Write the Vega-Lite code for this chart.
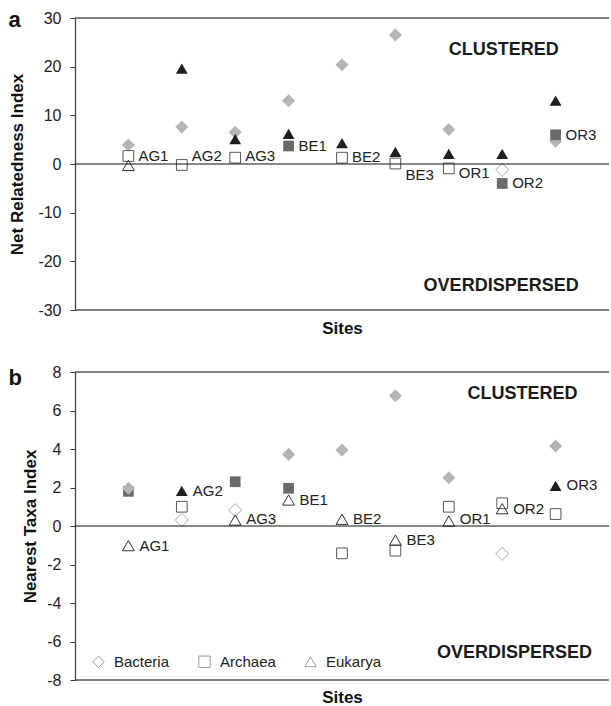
{
  "$schema": "https://vega.github.io/schema/vega-lite/v6.json",
  "padding": {"left": 8, "top": 8, "right": 0, "bottom": 0},
  "spacing": 28,
  "config": {
    "font": "Liberation Sans",
    "view": {"stroke": null},
    "axis": {"grid": false, "labelFontSize": 16, "labelColor": "#222", "titleFontSize": 17, "titleFontWeight": "bold", "titleColor": "#111", "tickColor": "#333", "tickSize": 5, "domainColor": "#444", "domainWidth": 1.3, "labelPadding": 9, "labelOverlap": false, "labelBound": false, "labelFlush": false, "labelExpr": "replace(datum.label, '\u2212', '-')"}
  },
  "datasets": {
    "nri": [
      {"site": 1, "taxon": "Bacteria", "value": 3.9, "significant": true},
      {"site": 2, "taxon": "Bacteria", "value": 7.6, "significant": true},
      {"site": 3, "taxon": "Bacteria", "value": 6.5, "significant": true},
      {"site": 4, "taxon": "Bacteria", "value": 13.0, "significant": true},
      {"site": 5, "taxon": "Bacteria", "value": 20.4, "significant": true},
      {"site": 6, "taxon": "Bacteria", "value": 26.5, "significant": true},
      {"site": 7, "taxon": "Bacteria", "value": 7.1, "significant": true},
      {"site": 8, "taxon": "Bacteria", "value": -1.2, "significant": false},
      {"site": 9, "taxon": "Bacteria", "value": 4.7, "significant": true},
      {"site": 1, "taxon": "Archaea", "value": 1.65, "significant": false},
      {"site": 2, "taxon": "Archaea", "value": -0.2, "significant": false},
      {"site": 3, "taxon": "Archaea", "value": 1.3, "significant": false},
      {"site": 4, "taxon": "Archaea", "value": 3.7, "significant": true},
      {"site": 5, "taxon": "Archaea", "value": 1.3, "significant": false},
      {"site": 6, "taxon": "Archaea", "value": 0.1, "significant": false},
      {"site": 7, "taxon": "Archaea", "value": -0.9, "significant": false},
      {"site": 8, "taxon": "Archaea", "value": -4.0, "significant": true},
      {"site": 9, "taxon": "Archaea", "value": 6.0, "significant": true},
      {"site": 1, "taxon": "Eukarya", "value": -0.3, "significant": false},
      {"site": 2, "taxon": "Eukarya", "value": 19.6, "significant": true},
      {"site": 3, "taxon": "Eukarya", "value": 5.1, "significant": true},
      {"site": 4, "taxon": "Eukarya", "value": 6.2, "significant": true},
      {"site": 5, "taxon": "Eukarya", "value": 4.3, "significant": true},
      {"site": 6, "taxon": "Eukarya", "value": 2.5, "significant": true},
      {"site": 7, "taxon": "Eukarya", "value": 2.1, "significant": true},
      {"site": 8, "taxon": "Eukarya", "value": 2.1, "significant": true},
      {"site": 9, "taxon": "Eukarya", "value": 13.0, "significant": true}
    ],
    "nti": [
      {"site": 1, "taxon": "Archaea", "value": 1.8, "significant": true},
      {"site": 2, "taxon": "Archaea", "value": 1.0, "significant": false},
      {"site": 3, "taxon": "Archaea", "value": 2.3, "significant": true},
      {"site": 4, "taxon": "Archaea", "value": 1.96, "significant": true},
      {"site": 5, "taxon": "Archaea", "value": -1.42, "significant": false},
      {"site": 6, "taxon": "Archaea", "value": -1.28, "significant": false},
      {"site": 7, "taxon": "Archaea", "value": 1.0, "significant": false},
      {"site": 8, "taxon": "Archaea", "value": 1.18, "significant": false},
      {"site": 9, "taxon": "Archaea", "value": 0.62, "significant": false},
      {"site": 1, "taxon": "Bacteria", "value": 1.96, "significant": true},
      {"site": 2, "taxon": "Bacteria", "value": 0.31, "significant": false},
      {"site": 3, "taxon": "Bacteria", "value": 0.83, "significant": false},
      {"site": 4, "taxon": "Bacteria", "value": 3.72, "significant": true},
      {"site": 5, "taxon": "Bacteria", "value": 3.95, "significant": true},
      {"site": 6, "taxon": "Bacteria", "value": 6.77, "significant": true},
      {"site": 7, "taxon": "Bacteria", "value": 2.51, "significant": true},
      {"site": 8, "taxon": "Bacteria", "value": -1.45, "significant": false},
      {"site": 9, "taxon": "Bacteria", "value": 4.16, "significant": true},
      {"site": 1, "taxon": "Eukarya", "value": -1.02, "significant": false},
      {"site": 2, "taxon": "Eukarya", "value": 1.82, "significant": true},
      {"site": 3, "taxon": "Eukarya", "value": 0.31, "significant": false},
      {"site": 4, "taxon": "Eukarya", "value": 1.35, "significant": false},
      {"site": 5, "taxon": "Eukarya", "value": 0.35, "significant": false},
      {"site": 6, "taxon": "Eukarya", "value": -0.73, "significant": false},
      {"site": 7, "taxon": "Eukarya", "value": 0.26, "significant": false},
      {"site": 8, "taxon": "Eukarya", "value": 0.9, "significant": false},
      {"site": 9, "taxon": "Eukarya", "value": 2.08, "significant": true}
    ],
    "nriLabels": [
      {"site": 1, "label": "AG1", "at": 1.65},
      {"site": 2, "label": "AG2", "at": 1.6},
      {"site": 3, "label": "AG3", "at": 1.6},
      {"site": 4, "label": "BE1", "at": 3.7},
      {"site": 5, "label": "BE2", "at": 1.45},
      {"site": 6, "label": "BE3", "at": -2.3},
      {"site": 7, "label": "OR1", "at": -1.9},
      {"site": 8, "label": "OR2", "at": -4.0},
      {"site": 9, "label": "OR3", "at": 6.0}
    ],
    "ntiLabels": [
      {"site": 1, "label": "AG1", "at": -1.02},
      {"site": 2, "label": "AG2", "at": 1.82},
      {"site": 3, "label": "AG3", "at": 0.35},
      {"site": 4, "label": "BE1", "at": 1.35},
      {"site": 5, "label": "BE2", "at": 0.35},
      {"site": 6, "label": "BE3", "at": -0.73},
      {"site": 7, "label": "OR1", "at": 0.35},
      {"site": 8, "label": "OR2", "at": 0.87},
      {"site": 9, "label": "OR3", "at": 2.13}
    ]
  },
  "resolve": {
    "scale": {"shape": "independent"},
    "legend": {"shape": "independent"}
  },
  "vconcat": [
    {
      "width": 534,
      "height": 292,
      "layer": [
        {
          "data": {"name": "nri"},
          "mark": {"type": "point", "filled": false, "opacity": 1},
          "encoding": {
            "x": {"field": "site", "type": "quantitative", "scale": {"domain": [0.035, 9.942]}, "axis": {"title": "Sites", "labels": false, "ticks": false, "domain": false, "titlePadding": 10}},
            "y": {"field": "value", "type": "quantitative", "scale": {"domain": [-30, 30]}, "axis": {"title": "Net Relatedness Index", "values": [-30, -20, -10, 0, 10, 20, 30], "tickCount": 7, "titlePadding": 11, "labelOverlap": false}},
            "shape": {"condition": [{"test": "datum.taxon === 'Bacteria'", "value": "diamond"}, {"test": "datum.taxon === 'Archaea'", "value": "square"}], "value": "triangle-up"},
            "size": {"condition": [{"test": "datum.taxon === 'Bacteria'", "value": 170}, {"test": "datum.taxon === 'Archaea'", "value": 115}], "value": 140},
            "fill": {"condition": [{"test": "!datum.significant", "value": "transparent"}, {"test": "datum.taxon === 'Bacteria'", "value": "#b5b5b5"}, {"test": "datum.taxon === 'Archaea'", "value": "#6a6a6a"}], "value": "#1e1e1e"},
            "stroke": {"condition": [{"test": "datum.taxon === 'Bacteria'", "value": "#a8a8a8"}, {"test": "datum.taxon === 'Archaea'", "value": "#555555"}], "value": "#333333"},
            "strokeWidth": {"condition": {"test": "datum.significant", "value": 0}, "value": 1}
          }
        },
        {
          "data": {"values": [{}]},
          "mark": {"type": "rule", "color": "#555", "strokeWidth": 1.5},
          "encoding": {"y": {"datum": 30}}
        },
        {
          "data": {"values": [{}]},
          "mark": {"type": "rule", "color": "#555", "strokeWidth": 1.5},
          "encoding": {"y": {"datum": -30}}
        },
        {
          "data": {"values": [{}]},
          "mark": {"type": "rule", "color": "#111", "strokeWidth": 1},
          "encoding": {"y": {"datum": 0}}
        },
        {
          "data": {"name": "nriLabels"},
          "mark": {"type": "text", "align": "left", "baseline": "middle", "dx": 10, "fontSize": 15, "color": "#222"},
          "encoding": {
            "x": {"field": "site", "type": "quantitative"},
            "y": {"field": "at", "type": "quantitative"},
            "text": {"field": "label"}
          }
        },
        {
          "data": {"values": [{}]},
          "mark": {"type": "text", "align": "center", "baseline": "middle", "fontSize": 18, "fontWeight": "bold", "color": "#1a1a1a"},
          "encoding": {"x": {"datum": 8.03}, "y": {"datum": 23.5}, "text": {"value": "CLUSTERED"}}
        },
        {
          "data": {"values": [{}]},
          "mark": {"type": "text", "align": "center", "baseline": "middle", "fontSize": 18, "fontWeight": "bold", "color": "#1a1a1a"},
          "encoding": {"x": {"datum": 7.98}, "y": {"datum": -25.0}, "text": {"value": "OVERDISPERSED"}}
        },
        {
          "data": {"values": [{}]},
          "mark": {"type": "text", "align": "left", "baseline": "alphabetic", "fontSize": 22, "fontWeight": "bold", "color": "#111"},
          "encoding": {"x": {"datum": -1.245}, "y": {"datum": 28.2}, "text": {"value": "a"}}
        }
      ]
    },
    {
      "width": 534,
      "height": 308,
      "layer": [
        {
          "data": {"name": "nti"},
          "mark": {"type": "point", "filled": false, "opacity": 1},
          "encoding": {
            "x": {"field": "site", "type": "quantitative", "scale": {"domain": [0.035, 9.942]}, "axis": {"title": "Sites", "labels": false, "ticks": false, "domain": false, "titlePadding": 9}},
            "y": {"field": "value", "type": "quantitative", "scale": {"domain": [-8, 8]}, "axis": {"title": "Nearest Taxa Index", "values": [-8, -6, -4, -2, 0, 2, 4, 6, 8], "tickCount": 9, "titlePadding": 7, "labelOverlap": false, "labelBound": false}},
            "shape": {"condition": [{"test": "datum.taxon === 'Bacteria'", "value": "diamond"}, {"test": "datum.taxon === 'Archaea'", "value": "square"}], "value": "triangle-up"},
            "size": {"condition": [{"test": "datum.taxon === 'Bacteria'", "value": 170}, {"test": "datum.taxon === 'Archaea'", "value": 115}], "value": 140},
            "fill": {"condition": [{"test": "!datum.significant", "value": "transparent"}, {"test": "datum.taxon === 'Bacteria'", "value": "#b5b5b5"}, {"test": "datum.taxon === 'Archaea'", "value": "#6a6a6a"}], "value": "#1e1e1e"},
            "stroke": {"condition": [{"test": "datum.taxon === 'Bacteria'", "value": "#a8a8a8"}, {"test": "datum.taxon === 'Archaea'", "value": "#555555"}], "value": "#333333"},
            "strokeWidth": {"condition": {"test": "datum.significant", "value": 0}, "value": 1}
          }
        },
        {
          "data": {"name": "nti"},
          "transform": [{"filter": "false"}],
          "mark": {"type": "point", "filled": false, "opacity": 1, "color": "#9a9a9a", "strokeWidth": 1},
          "encoding": {
            "x": {"field": "site", "type": "quantitative"},
            "y": {"field": "value", "type": "quantitative"},
            "shape": {"field": "taxon", "type": "nominal", "scale": {"domain": ["Bacteria", "Archaea", "Eukarya"], "range": ["diamond", "square", "triangle-up"]},
              "legend": {"orient": "none", "legendX": 16, "legendY": 282, "direction": "horizontal", "title": null, "labelFontSize": 15, "labelColor": "#222", "symbolSize": 130, "symbolStrokeWidth": 1, "symbolStrokeColor": "#9a9a9a", "symbolFillColor": "transparent", "labelOffset": 8, "columnPadding": 26, "padding": 0}}
          }
        },
        {
          "data": {"values": [{}]},
          "mark": {"type": "rule", "color": "#555", "strokeWidth": 1.5},
          "encoding": {"y": {"datum": 8}}
        },
        {
          "data": {"values": [{}]},
          "mark": {"type": "rule", "color": "#555", "strokeWidth": 1.5},
          "encoding": {"y": {"datum": -8}}
        },
        {
          "data": {"values": [{}]},
          "mark": {"type": "rule", "color": "#111", "strokeWidth": 1},
          "encoding": {"y": {"datum": 0}}
        },
        {
          "data": {"name": "ntiLabels"},
          "mark": {"type": "text", "align": "left", "baseline": "middle", "dx": 11, "fontSize": 15, "color": "#222"},
          "encoding": {
            "x": {"field": "site", "type": "quantitative"},
            "y": {"field": "at", "type": "quantitative"},
            "text": {"field": "label"}
          }
        },
        {
          "data": {"values": [{}]},
          "mark": {"type": "text", "align": "center", "baseline": "middle", "fontSize": 18, "fontWeight": "bold", "color": "#1a1a1a"},
          "encoding": {"x": {"datum": 8.38}, "y": {"datum": 6.86}, "text": {"value": "CLUSTERED"}}
        },
        {
          "data": {"values": [{}]},
          "mark": {"type": "text", "align": "center", "baseline": "middle", "fontSize": 18, "fontWeight": "bold", "color": "#1a1a1a"},
          "encoding": {"x": {"datum": 8.23}, "y": {"datum": -6.58}, "text": {"value": "OVERDISPERSED"}}
        },
        {
          "data": {"values": [{}]},
          "mark": {"type": "text", "align": "left", "baseline": "alphabetic", "fontSize": 22, "fontWeight": "bold", "color": "#111"},
          "encoding": {"x": {"datum": -1.245}, "y": {"datum": 7.32}, "text": {"value": "b"}}
        }
      ]
    }
  ]
}
